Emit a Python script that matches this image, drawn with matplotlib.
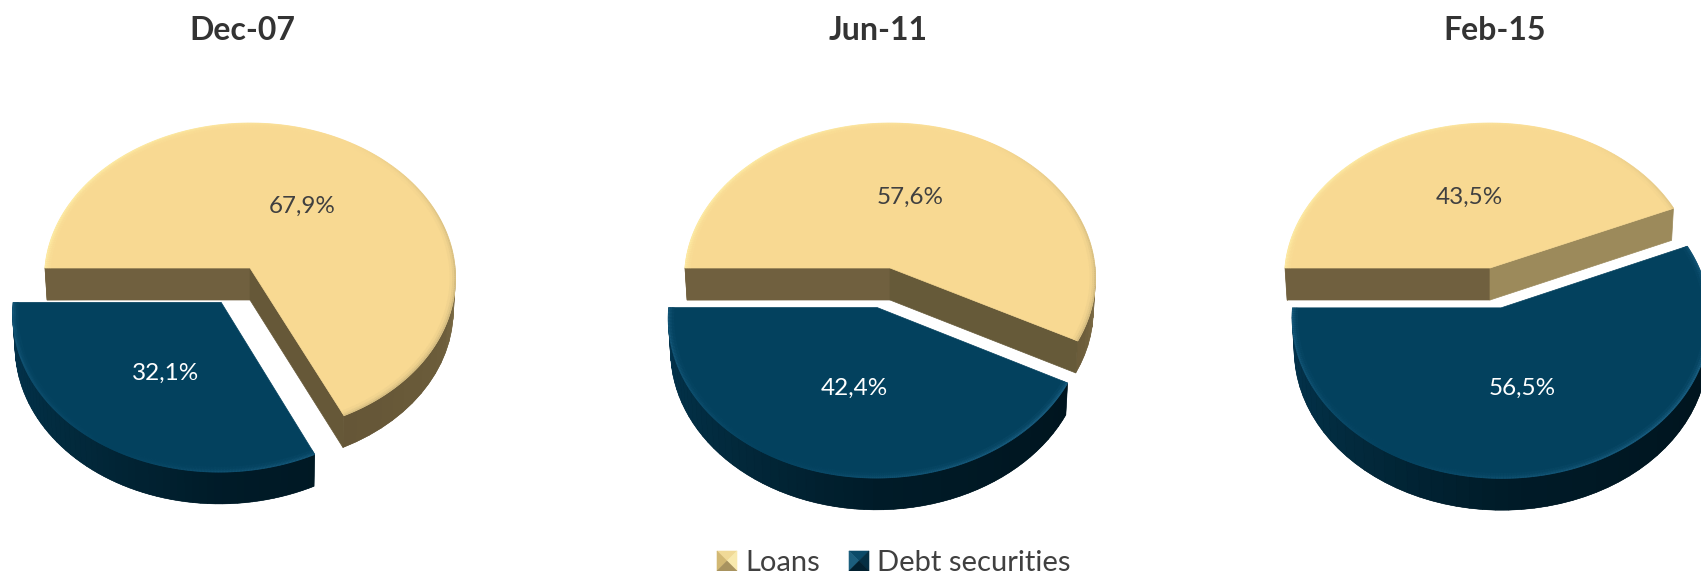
import numpy as np
import matplotlib
matplotlib.use("Agg")
import matplotlib.pyplot as plt
from matplotlib.collections import PolyCollection, LineCollection
from matplotlib.colors import to_rgb

plt.rcParams['font.family'] = ['Lato', 'DejaVu Sans']

# --- Dati ---
dates = ["Dec-07", "Jun-11", "Feb-15"]
loans = [67.9, 57.6, 43.5]
debt_securities = [32.1, 42.4, 56.5]
series_names = ["Loans", "Debt securities"]

# --- Layout (pixel) ---
W, H = 1701, 571
centers_x = [250, 890, 1490]
center_y = 268
title_x = [242, 878, 1495]
loans_label_pos = [(302, 206), (910, 197), (1469, 197)]
debt_label_pos = [(166, 373), (854, 388), (1522, 388)]
cut_colors = ["#665838", "#665a39", "#9c8a5b"]

rx = 205        # half width at the pie's centre line
persp_a = 154   # vertical scale
persp_k = 0.0645
depth = 32
explode = 0.26

LOAN_TOP = "#f8d992"
DEBT_TOP = "#03415e"
DARK_TEXT = "#404040"


def project(x, y, cx):
    # semplice prospettiva: il fondo del disco e' piu' grande del retro
    s = 1 / (1 + persp_k * y)
    return cx + rx * x * s, center_y - persp_a * y * s


def mix(c1, c2, t):
    a, b = np.array(to_rgb(c1)), np.array(to_rgb(c2))
    return tuple(a + (b - a) * t)


def wall_color(stops, theta):
    degs, cols = zip(*stops)
    rgb = np.array([to_rgb(c) for c in cols])
    return tuple(np.interp(theta, degs, rgb[:, i]) for i in range(3))


loan_wall = [(-70, "#645536"), (-25, "#6c5d3b"), (0, "#84734c"), (25, "#9c8a5b")]
debt_wall = [(180, "#033550"), (225, "#022a3d"), (270, "#001b28"), (330, "#00151f"), (390, "#00151f")]


def draw_slice(ax, cx, t1, t2, off, top, stops, rim_light, rim_dark, z):
    # t1, t2 in gradi, antiorario. off = spostamento del centro
    th = np.radians(np.linspace(t1, t2, 300))
    ox, oy = off
    x = ox + np.cos(th)
    y = oy + np.sin(th)
    px, py = project(x, y, cx)

    # parete esterna: prima la sagoma intera, poi le fasce di colore
    front = np.sin(th) <= 0.02
    if front.any():
        fx, fy = px[front], py[front]
        fb = cx + (fx - cx) * 0.99
        ax.fill(np.r_[fx, fb[::-1]], np.r_[fy, fy[::-1] + depth],
                color=wall_color(stops, np.degrees(th[front]).mean()), lw=0, zorder=z)
        idx = np.flatnonzero(front)[::5]
        idx = np.r_[idx, np.flatnonzero(front)[-1]]
        quads, cols = [], []
        for a, b in zip(idx[:-1], idx[1:]):
            xa = cx + (px[a] - cx) * 0.99
            xb = cx + (px[b] - cx) * 0.99
            quads.append([(px[a], py[a]), (px[b], py[b]), (xb, py[b] + depth), (xa, py[a] + depth)])
            cols.append(wall_color(stops, np.degrees(th[a])))
        ax.add_collection(PolyCollection(quads, facecolors=cols, edgecolors=cols,
                                         linewidths=0.4, zorder=z))

    # faccia superiore
    c0x, c0y = project(ox, oy, cx)
    ax.fill(np.r_[c0x, px], np.r_[c0y, py], color=top, lw=0.5, zorder=z + 2)

    # bordo smussato, piu' chiaro verso la luce
    for r, strength, lw in [(0.997, 0.8, 1.6), (0.988, 0.4, 1.8), (0.978, 0.15, 1.8)]:
        rx_, ry_ = project(ox + r * np.cos(th), oy + r * np.sin(th), cx)
        pts = np.column_stack([rx_, ry_])
        segs = np.stack([pts[:-1], pts[1:]], axis=1)
        shade = np.cos(th[:-1] - np.radians(150))
        seg_cols = [mix(top, rim_light, strength * max(s, 0)) if s > 0
                    else mix(top, rim_dark, strength * -s) for s in shade]
        ax.add_collection(LineCollection(segs, colors=seg_cols, linewidths=lw, zorder=z + 3))


def draw_cut(ax, cx, theta, color, z):
    # faccia di taglio tra centro e bordo
    tx, ty = project(np.cos(np.radians(theta)), np.sin(np.radians(theta)), cx)
    c0x, c0y = project(0, 0, cx)
    tbx = cx + (tx - cx) * 0.99
    ax.fill([c0x, tx, tbx, c0x], [c0y, ty, ty + depth, c0y + depth],
            color=color, lw=0.5, zorder=z)


def draw_icon(ax, x0, y0, size, top, left, right, bottom):
    mx, my = x0 + size / 2, y0 + size / 2
    x1, y1 = x0 + size, y0 + size
    ax.fill([x0, x1, mx], [y0, y0, my], color=top, lw=0.4, zorder=5)
    ax.fill([x0, x0, mx], [y0, y1, my], color=left, lw=0.4, zorder=5)
    ax.fill([x1, x1, mx], [y0, y1, my], color=right, lw=0.4, zorder=5)
    ax.fill([x0, x1, mx], [y1, y1, my], color=bottom, lw=0.4, zorder=5)


fig = plt.figure(figsize=(W / 100, H / 100), dpi=100)
ax = fig.add_axes([0, 0, 1, 1])
ax.set_xlim(0, W)
ax.set_ylim(H, 0)
ax.axis("off")

for i, date in enumerate(dates):
    cx = centers_x[i]
    loan_sweep = loans[i] * 3.6
    debt_sweep = debt_securities[i] * 3.6
    end = 180 - loan_sweep

    # Loans: da ore 9 in senso orario
    draw_cut(ax, cx, 180, "#70603f", 2)
    draw_cut(ax, cx, end, cut_colors[i], 3)
    draw_slice(ax, cx, end, 180, (0, 0), LOAN_TOP, loan_wall, "#fff0a8", "#c8b27a", 1)

    # Debt securities: fetta staccata lungo la bisettrice
    mid = np.radians(180 + debt_sweep / 2)
    off = (explode * np.cos(mid), explode * np.sin(mid))
    draw_slice(ax, cx, 180, 180 + debt_sweep, off, DEBT_TOP, debt_wall, "#1f6488", "#1f6488", 6)

    ax.text(title_x[i], 31, date, ha="center", va="center", fontsize=23,
            fontweight="bold", color="#333333")
    ax.text(*loans_label_pos[i], f"{loans[i]:.1f}%".replace(".", ","), ha="center", va="center",
            fontsize=17.5, color=DARK_TEXT, zorder=12)
    ax.text(*debt_label_pos[i], f"{debt_securities[i]:.1f}%".replace(".", ","), ha="center", va="center",
            fontsize=17.5, color="white", zorder=12)

# --- Legenda, tagliata dal bordo inferiore ---
draw_icon(ax, 717, 551, 20, "#f0d997", "#d2b873", "#f8e9ae", "#a8935f")
draw_icon(ax, 849, 551, 20, "#0b4a68", "#1c5f7e", "#052f43", "#02202f")
ax.text(745, 571, series_names[0], ha="left", va="baseline", fontsize=21, color=DARK_TEXT, clip_on=False)
ax.text(877, 571, series_names[1], ha="left", va="baseline", fontsize=21, color=DARK_TEXT, clip_on=False)

fig.savefig("out.png", dpi=100, facecolor="white")
